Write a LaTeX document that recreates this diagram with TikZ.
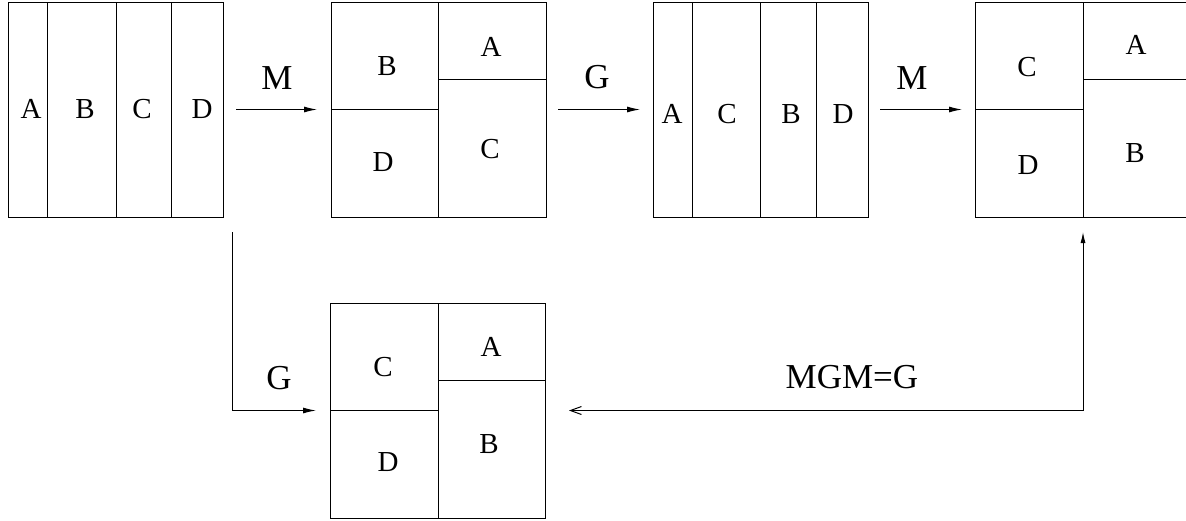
\documentclass[tikz,border=0pt]{standalone}
\usepackage{fontspec}
\setmainfont{Liberation Serif}
\usetikzlibrary{arrows.meta}
\begin{document}
\begin{tikzpicture}[x=1pt,y=-1pt,
  panel/.style={draw, line width=1pt, minimum width=215pt, minimum height=215pt, inner sep=0pt, outer sep=0pt, anchor=north west},
  part/.style={line width=1pt},
  ltr/.style={font=\fontsize{29}{32}\selectfont, inner sep=0pt},
  lbl/.style={font=\fontsize{35}{39}\selectfont, inner sep=0pt},
  arr/.style={line width=1pt, -{Latex[length=13pt,width=6pt]}},
]
\useasboundingbox (0,0) rectangle (1186,520);
\clip (0,0) rectangle (1186,520);

% panels
\node[panel] (b1) at (8,2) {};
\node[panel] (b2) at (331,2) {};
\node[panel] (b3) at (653,2) {};
\node[panel] (b4) at (975,2) {};
\node[panel] (b5) at (330,303) {};

% partitions
\draw[part] (47,2) -- (47,217) (116,2) -- (116,217) (171,2) -- (171,217);
\draw[part] (438,2) -- (438,217) (331,109) -- (438,109) (438,79) -- (546,79);
\draw[part] (692,2) -- (692,217) (760,2) -- (760,217) (816,2) -- (816,217);
\draw[part] (1083,2) -- (1083,217) (975,109) -- (1083,109) (1083,79) -- (1190,79);
\draw[part] (438,303) -- (438,518) (330,410) -- (438,410) (438,380) -- (545,380);

% letters
\node[ltr] (l1a) at (31,109) {A};
\node[ltr] (l1b) at (85,109) {B};
\node[ltr] (l1c) at (142,109) {C};
\node[ltr] (l1d) at (202,109) {D};

\node[ltr] (l2b) at (387,66) {B};
\node[ltr] (l2a) at (491,47) {A};
\node[ltr] (l2d) at (383,162) {D};
\node[ltr] (l2c) at (490,149) {C};

\node[ltr] (l3a) at (672,114) {A};
\node[ltr] (l3c) at (727,114) {C};
\node[ltr] (l3b) at (791,114) {B};
\node[ltr] (l3d) at (843,114) {D};

\node[ltr] (l4c) at (1027,67) {C};
\node[ltr] (l4a) at (1136,45) {A};
\node[ltr] (l4d) at (1028,165) {D};
\node[ltr] (l4b) at (1135,153) {B};

\node[ltr] (l5c) at (383,367) {C};
\node[ltr] (l5a) at (491,347) {A};
\node[ltr] (l5d) at (388,462) {D};
\node[ltr] (l5b) at (489,444) {B};

% connectors
\draw[arr] ([xshift=13pt]b1.east) -- ([xshift=-14pt]b2.west);
\draw[arr] ([xshift=12pt]b2.east) -- ([xshift=-13pt]b3.west);
\draw[arr] ([xshift=12pt]b3.east) -- ([xshift=-13pt]b4.west);

\coordinate (gstart) at (232,232);
\coordinate (mtop) at (1083,232);
\draw[arr] (gstart) |- ([xshift=-14pt]b5.west);
\draw[line width=1pt, {Straight Barb[length=11pt,width=8pt]}-{Latex[length=11pt,width=5pt]}] ([xshift=24pt]b5.east) -| (mtop);

% labels
\node[lbl] (m1) at (277,78) {M};
\node[lbl] (g1) at (597,77) {G};
\node[lbl] (m2) at (912,78) {M};
\node[lbl] (g2) at (279,378) {G};
\node[lbl] (mgm) at (852,377) {MGM=G};
\end{tikzpicture}
\end{document}
